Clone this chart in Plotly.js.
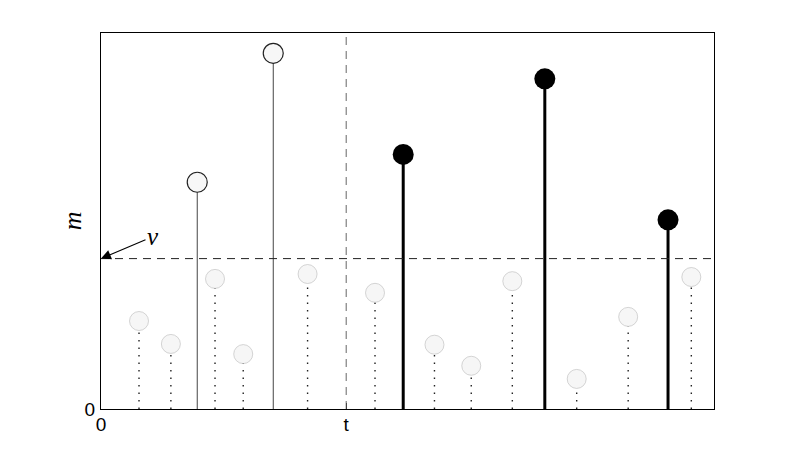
<!DOCTYPE html>
<html>
<head>
<meta charset="utf-8">
<script src="https://cdn.plot.ly/plotly-3.0.1.min.js"></script>
<style>
  html, body { margin: 0; padding: 0; background: #fff; }
  #chart { width: 789px; height: 461px; }
</style>
</head>
<body>
<div id="chart"></div>
<script>
// below-threshold arrivals (dotted stems, faint markers)
const lowX = [0.62, 1.14, 1.86, 2.32, 3.37, 4.47, 5.44, 6.04, 6.71, 7.76, 8.60, 9.63];
const lowY = [0.234, 0.173, 0.346, 0.146, 0.359, 0.309, 0.171, 0.115, 0.340, 0.080, 0.245, 0.351];
// past exceedances (before t): open circles
const pastX = [1.57, 2.81];
const pastY = [0.603, 0.946];
// future exceedances (after t): filled circles
const futX = [4.93, 7.24, 9.25];
const futY = [0.677, 0.878, 0.503];

const NU = 0.40;   // threshold
const T = 4.0;     // current time
const X_MAX = 10;

// stems as one trace per group, segments split by nulls
function stems(xs, ys) {
  const x = [], y = [];
  xs.forEach((v, i) => { x.push(v, v, null); y.push(0, ys[i], null); });
  return { x, y };
}

const sLow = stems(lowX, lowY), sPast = stems(pastX, pastY), sFut = stems(futX, futY);

const traces = [
  { x: sLow.x, y: sLow.y, mode: 'lines', type: 'scatter', hoverinfo: 'skip',
    line: { color: '#222', width: 1.4, dash: '1.5px,6px' } },
  { x: sPast.x, y: sPast.y, mode: 'lines', type: 'scatter', hoverinfo: 'skip',
    line: { color: '#444', width: 1 } },
  { x: sFut.x, y: sFut.y, mode: 'lines', type: 'scatter', hoverinfo: 'skip',
    line: { color: '#000', width: 3 } },
  { x: lowX, y: lowY, mode: 'markers', type: 'scatter',
    marker: { size: 19, color: '#f6f6f6', line: { color: '#b8b8b8', width: 0.6 } } },
  { x: pastX, y: pastY, mode: 'markers', type: 'scatter',
    marker: { size: 20, color: '#f7f7f7', line: { color: '#222', width: 1.2 } } },
  { x: futX, y: futY, mode: 'markers', type: 'scatter',
    marker: { size: 21, color: '#000', line: { color: '#000', width: 0 } } },
];

const serif = 'Liberation Serif, DejaVu Serif, serif';
const layout = {
  width: 789, height: 461,
  margin: { l: 101, r: 75, t: 33, b: 52 },
  paper_bgcolor: '#fff', plot_bgcolor: '#fff',
  showlegend: false,
  font: { family: 'Liberation Sans, Arial, sans-serif', size: 17, color: '#000' },
  xaxis: {
    range: [0, X_MAX], showgrid: false, zeroline: false,
    showline: true, mirror: true, linecolor: '#000', linewidth: 1.2,
    tickmode: 'array', tickvals: [0, T], ticktext: ['0', 't'],
    tickfont: { size: 19 },
    ticks: 'inside', ticklen: 6, tickcolor: '#000', ticklabelstandoff: -2,
  },
  yaxis: {
    range: [0, 1], showgrid: false, zeroline: false,
    showline: true, mirror: true, linecolor: '#000', linewidth: 1.2,
    tickmode: 'array', tickvals: [0], ticktext: ['0'],
    tickfont: { size: 19 },
    ticks: '', ticklabelstandoff: 1,
  },
  shapes: [
    { type: 'line', xref: 'paper', yref: 'y', x0: 0, x1: 1, y0: NU, y1: NU,
      line: { color: '#222', width: 1, dash: '8px,6px' } },
    { type: 'line', xref: 'x', yref: 'paper', x0: T, x1: T, y0: 0, y1: 1,
      line: { color: '#666', width: 1, dash: '8px,6px' } },
  ],
  annotations: [
    // y-axis label
    { xref: 'paper', yref: 'paper', x: -0.047, y: 0.5, text: '<i>m</i>', textangle: -90,
      showarrow: false, xanchor: 'center', yanchor: 'middle',
      font: { family: serif, size: 26, color: '#000' } },
    // threshold marker
    { xref: 'x', yref: 'y', x: 0, y: NU, text: '<i>ν</i>',
      font: { family: serif, size: 25, color: '#000' },
      showarrow: true, arrowhead: 2, arrowsize: 1.8, arrowwidth: 1.1, arrowcolor: '#000',
      ax: 52, ay: -22, standoff: 0 },
  ],
};

Plotly.newPlot('chart', traces, layout, { staticPlot: true, displayModeBar: false });
</script>
</body>
</html>
